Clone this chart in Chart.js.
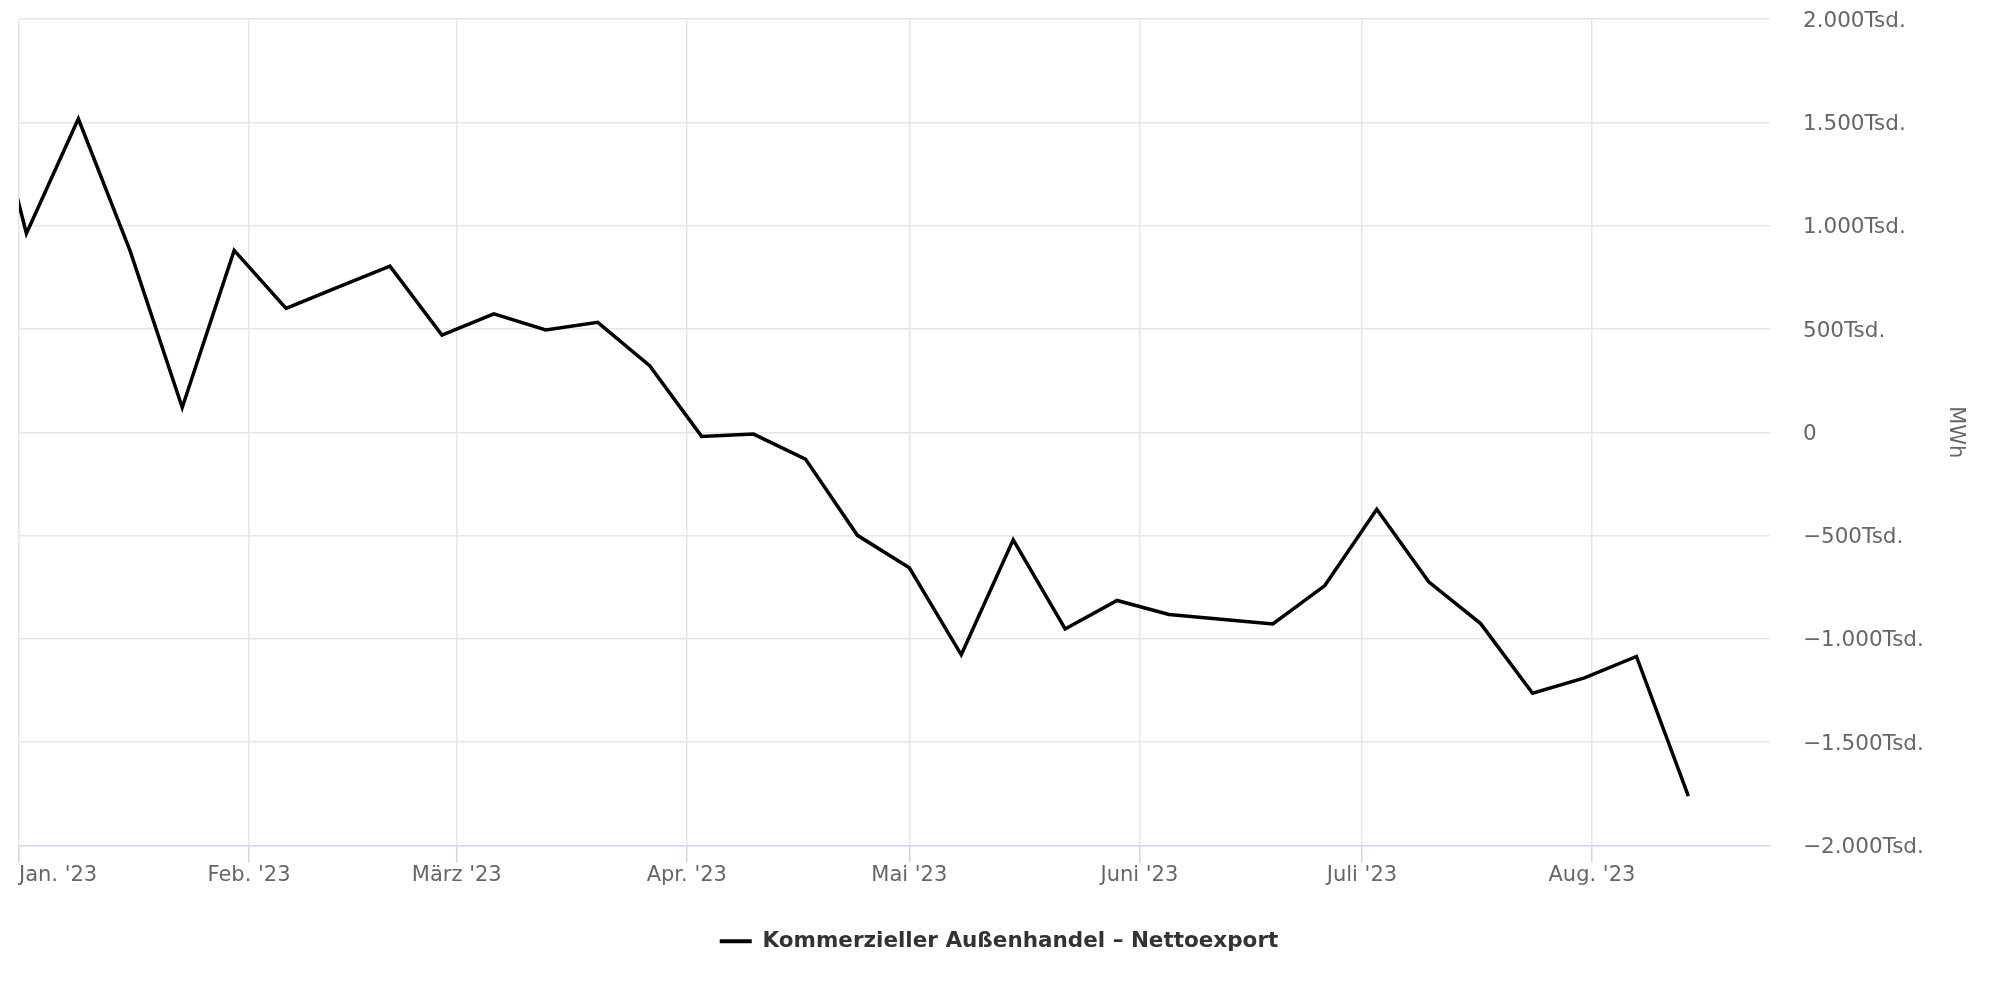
<!DOCTYPE html>
<html>
<head>
<meta charset="utf-8">
<script src="https://cdn.jsdelivr.net/npm/chart.js@4/dist/chart.umd.min.js"></script>
<style>
  html, body { margin: 0; padding: 0; background: #fff; }
  #wrap { width: 2000px; height: 1000px; }
</style>
</head>
<body>
<div id="wrap"><canvas id="chart" width="2000" height="1000"></canvas></div>
<script>
// weekly values (MWh)
const weekDates = [
    '2022-12-26', '2023-01-02', '2023-01-09', '2023-01-16', '2023-01-23', '2023-01-30',
    '2023-02-06', '2023-02-13', '2023-02-20', '2023-02-27',
    '2023-03-06', '2023-03-13', '2023-03-20', '2023-03-27',
    '2023-04-03', '2023-04-10', '2023-04-17', '2023-04-24',
    '2023-05-01', '2023-05-08', '2023-05-15', '2023-05-22', '2023-05-29',
    '2023-06-05', '2023-06-12', '2023-06-19', '2023-06-26',
    '2023-07-03', '2023-07-10', '2023-07-17', '2023-07-24', '2023-07-31',
    '2023-08-07', '2023-08-14'
];
const nettoexport = [
    1950000, 962000, 1517000, 875000, 120000, 880000,
    599000, 702000, 804000, 470000,
    573000, 495000, 532000, 322000,
    -20000, -9000, -130000, -499000,
    -656000, -1077000, -521000, -952000, -814000,
    -882000, -905000, -928000, -742000,
    -373000, -724000, -926000, -1263000, -1189000,
    -1085000, -1761000
];
const monthStarts = ['2023-01-01', '2023-02-01', '2023-03-01', '2023-04-01',
                     '2023-05-01', '2023-06-01', '2023-07-01', '2023-08-01'];
const monthLabels = ["Jan. '23", "Feb. '23", "März '23", "Apr. '23",
                     "Mai '23", "Juni '23", "Juli '23", "Aug. '23"];
const axisStart = '2023-01-01';
const axisEnd = '2023-08-25';
const yTicks = [-2000000, -1500000, -1000000, -500000, 0, 500000, 1000000, 1500000, 2000000];
const seriesName = 'Kommerzieller Außenhandel – Nettoexport';
const unitTitle = 'MWh';

// days since the first axis date
function dayOf(s) {
    const p = s.split('-').map(Number);
    const base = axisStart.split('-').map(Number);
    return (Date.UTC(p[0], p[1] - 1, p[2]) - Date.UTC(base[0], base[1] - 1, base[2])) / 86400000;
}

const xMin = dayOf(axisStart);
const xMax = dayOf(axisEnd);
const monthDays = monthStarts.map(dayOf);

function formatTsd(v) {
    if (v === 0) return '0';
    const t = Math.abs(v / 1000).toFixed(0).replace(/\B(?=(\d{3})+(?!\d))/g, '.');
    return (v < 0 ? '\u2212' : '') + t + 'Tsd.';
}

Chart.defaults.font.family = '"DejaVu Sans", sans-serif';
Chart.defaults.font.size = 21;
Chart.defaults.color = '#666666';

new Chart(document.getElementById('chart'), {
    type: 'line',
    data: {
        datasets: [{
            label: seriesName,
            data: weekDates.map((d, i) => ({ x: dayOf(d), y: nettoexport[i] })),
            borderColor: '#000000',
            backgroundColor: '#000000',
            borderWidth: 3.5,
            pointRadius: 0,
            tension: 0,
            fill: false
        }]
    },
    options: {
        responsive: false,
        animation: false,
        layout: { padding: { left: 19, top: 19, right: 21, bottom: 38 } },
        plugins: {
            tooltip: { enabled: false },
            legend: {
                position: 'bottom',
                labels: {
                    boxWidth: 32,
                    boxHeight: 4,
                    padding: 10,
                    color: '#333333',
                    font: { size: 21.5, weight: 'bold' },
                    generateLabels: chart => [{
                        text: seriesName,
                        fillStyle: '#000000',
                        strokeStyle: '#000000',
                        fontColor: '#333333',
                        lineWidth: 0,
                        datasetIndex: 0
                    }]
                }
            }
        },
        scales: {
            x: {
                type: 'linear',
                min: xMin,
                max: xMax,
                afterBuildTicks: scale => {
                    scale.ticks = monthDays.map(v => ({ value: v })).concat([{ value: xMax }]);
                },
                afterFit: scale => {
                    scale.height = 75;
                    scale.paddingLeft = 0;
                    scale.paddingRight = 0;
                },
                ticks: {
                    align: 'inner',
                    maxRotation: 0,
                    autoSkip: false,
                    padding: 0,
                    color: '#666666',
                    callback: value => {
                        const i = monthDays.indexOf(value);
                        return i >= 0 ? monthLabels[i] : '';
                    }
                },
                grid: {
                    color: ctx => (ctx.tick && ctx.tick.value === xMax) ? 'rgba(0,0,0,0)' : '#e6e6e6',
                    tickColor: ctx => (ctx.tick && ctx.tick.value === xMax) ? 'rgba(0,0,0,0)' : '#ccd6eb',
                    lineWidth: 1.5,
                    tickLength: 17
                },
                border: { display: true, color: '#ccd6eb', width: 1.5 }
            },
            y: {
                position: 'right',
                min: -2000000,
                max: 2000000,
                afterBuildTicks: scale => {
                    scale.ticks = yTicks.map(v => ({ value: v }));
                },
                afterFit: scale => {
                    scale.width = 209;
                    scale.paddingTop = 0;
                    scale.paddingBottom = 0;
                },
                ticks: {
                    padding: 33,
                    labelOffset: 2,
                    color: '#666666',
                    font: { size: 21.5 },
                    callback: value => formatTsd(value)
                },
                grid: {
                    color: ctx => (ctx.tick && ctx.tick.value === -2000000) ? 'rgba(0,0,0,0)' : '#e6e6e6',
                    lineWidth: 1.5,
                    drawTicks: false
                },
                border: { display: false },
                title: {
                    display: true,
                    text: unitTitle,
                    color: '#666666',
                    font: { size: 21 },
                    padding: { top: 11, bottom: 0 }
                }
            }
        }
    }
});
</script>
</body>
</html>
